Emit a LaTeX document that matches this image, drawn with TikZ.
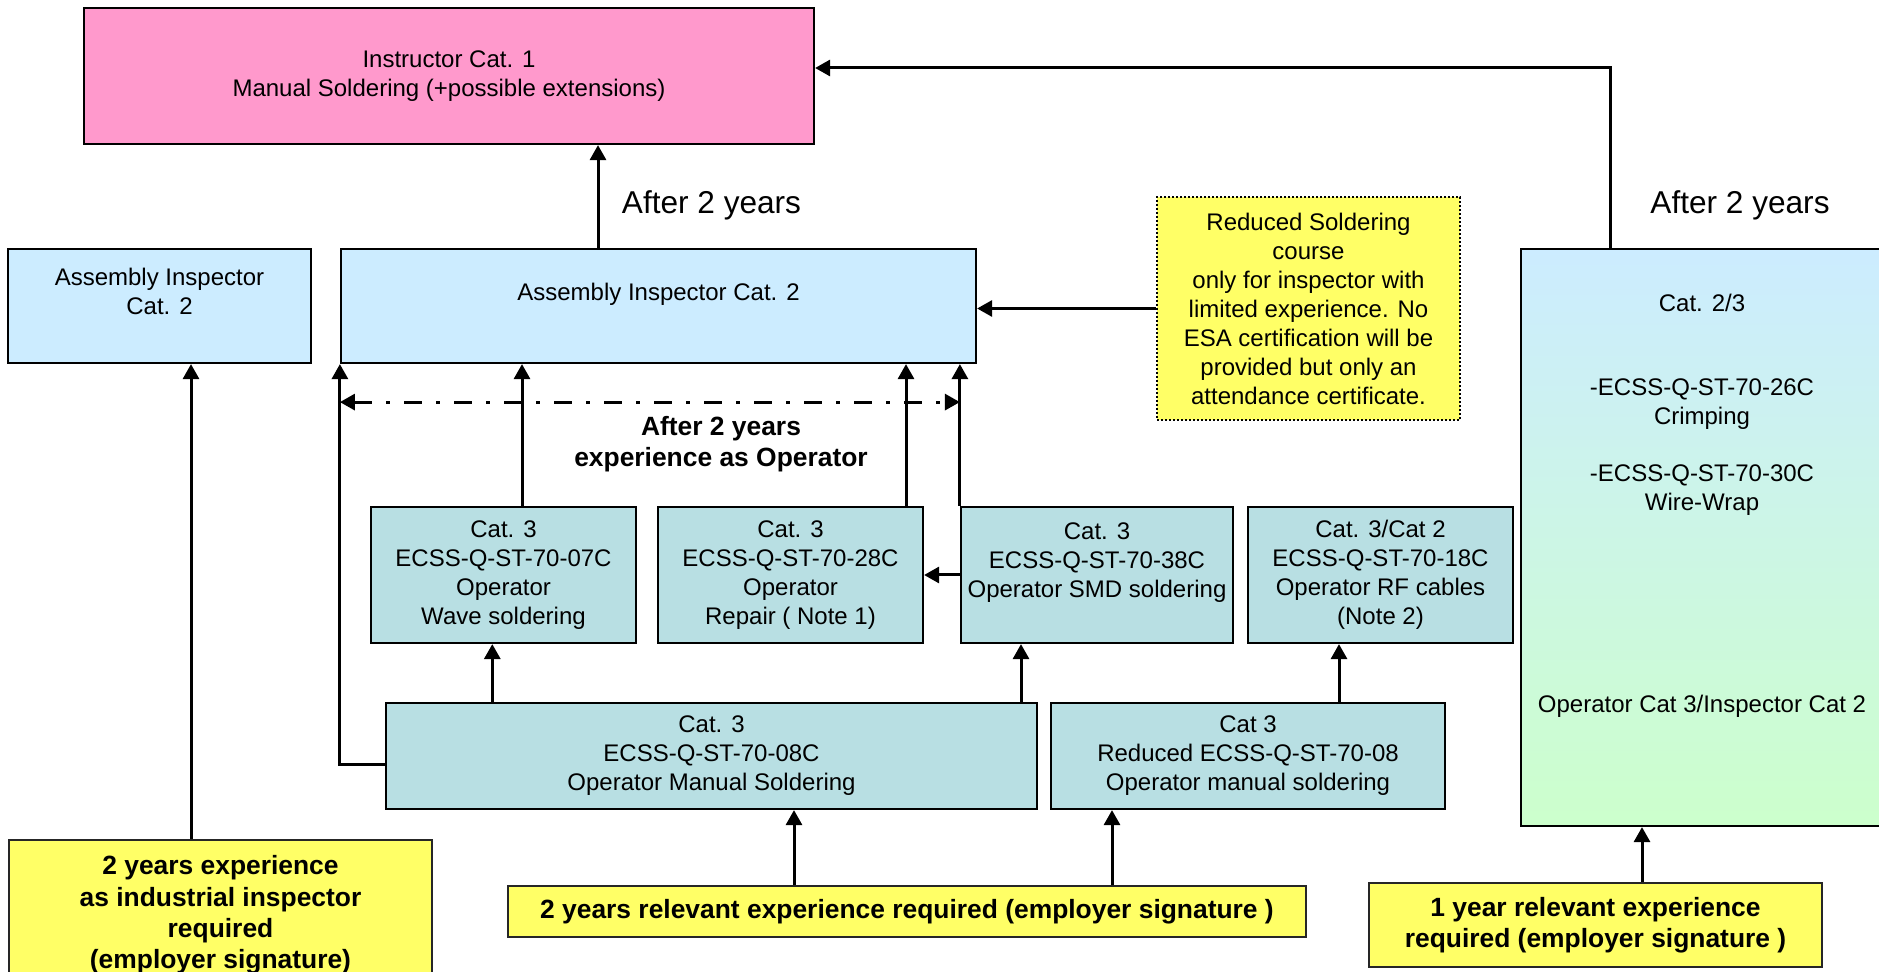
\documentclass[tikz,border=0pt]{standalone}
\usepackage{fontspec}
\setmainfont{Liberation Sans}
\usetikzlibrary{arrows.meta}
\definecolor{instrpink}{HTML}{FF99CC}
\definecolor{aiblue}{HTML}{CCECFF}
\definecolor{opteal}{HTML}{B8DFE3}
\definecolor{reqyellow}{HTML}{FFFF66}
\definecolor{extgreen}{HTML}{CCFFCC}
\begin{document}
\begin{tikzpicture}[x=0.5pt,y=-0.5pt,
  box/.style={draw, line width=1.1pt, inner sep=0pt, align=center, font=\fontsize{12}{14.5}\selectfont},
  reqbox/.style={draw=black!85, line width=1.1pt, inner sep=0pt, fill=reqyellow, align=center, font=\bfseries\fontsize{13.2}{15.6}\selectfont},
  lbl/.style={inner sep=0pt, align=center, font=\fontsize{12}{14.5}\selectfont},
  arr/.style={line width=1.5pt, -{Triangle[length=7.5pt,width=8pt]}}]
\path[use as bounding box, fill=white] (0,0) rectangle (1879,972);
\node[box, fill=instrpink, minimum width=365pt, minimum height=68pt] (instr) at (449,76) {Instructor Cat. 1\\Manual Soldering (+possible extensions)};
\node[box, fill=aiblue, minimum width=151.5pt, minimum height=57pt] (aismall) at (159.5,306) {Assembly Inspector\\Cat. 2\\~};
\node[box, fill=aiblue, minimum width=317.5pt, minimum height=57pt] (aibig) at (658.5,306) {Assembly Inspector Cat. 2\\~};
\node[box, fill=reqyellow, dash pattern=on 1pt off 1pt, minimum width=151.5pt, minimum height=111.5pt] (note) at (1308.5,308.5) {Reduced Soldering\\course\\only for inspector with\\limited experience. No\\ESA certification will be\\provided but only an\\attendance certificate.};
\node[box, top color=aiblue, bottom color=extgreen, minimum width=181.5pt, minimum height=288.5pt] (ext) at (1702.5,537.5) {};
\node[lbl] (extcat) at (1702,303) {Cat. 2/3};
\node[lbl] (extcrimp) at (1702,404.5) {-ECSS-Q-ST-70-26C\\Crimping};
\node[lbl] (extwrap) at (1702,490) {-ECSS-Q-ST-70-30C\\Wire-Wrap};
\node[lbl] (extop) at (1702,706) {Operator Cat 3/Inspector Cat 2};
\node[lbl, font=\fontsize{15.8}{19}\selectfont] (after1) at (711.5,205) {After 2 years};
\node[lbl, font=\fontsize{15.8}{19}\selectfont] (after2) at (1740,205) {After 2 years};
\node[lbl, font=\bfseries\fontsize{13.2}{15.8}\selectfont] (opexp) at (721,444) {After 2 years\\experience as Operator};
\node[box, fill=opteal, minimum width=132.5pt, minimum height=68pt] (wave) at (503.5,575) {Cat. 3\\ECSS-Q-ST-70-07C\\Operator\\Wave soldering};
\node[box, fill=opteal, minimum width=132.5pt, minimum height=68pt] (repair) at (790.5,575) {Cat. 3\\ECSS-Q-ST-70-28C\\Operator\\Repair ( Note 1)};
\node[box, fill=opteal, minimum width=136pt, minimum height=68pt] (smd) at (1097,575) {Cat. 3\\ECSS-Q-ST-70-38C\\Operator SMD soldering\\~};
\node[box, fill=opteal, minimum width=132.5pt, minimum height=68pt] (rf) at (1380.5,575) {Cat. 3/Cat 2\\ECSS-Q-ST-70-18C\\Operator RF cables\\(Note 2)};
\node[box, fill=opteal, minimum width=325.5pt, minimum height=53pt] (manual) at (711.5,756) {Cat. 3\\ECSS-Q-ST-70-08C\\Operator Manual Soldering};
\node[box, fill=opteal, minimum width=197pt, minimum height=53pt] (reduced) at (1248,756) {Cat 3\\Reduced ECSS-Q-ST-70-08\\Operator manual soldering};
\node[reqbox, minimum width=211.5pt, minimum height=75pt] (req1) at (220.5,915) {2 years experience\\as industrial inspector\\required\\(employer signature)};
\node[reqbox, minimum width=399pt, minimum height=25.5pt] (req2) at (907,911.5) {2 years relevant experience required (employer signature )};
\node[reqbox, minimum width=226.5pt, minimum height=42pt] (req3) at (1595.5,925) {1 year relevant experience\\required (employer signature )};
\draw[arr] ([xshift=-30.25pt]aibig.north) -- ([xshift=-30.25pt]aibig.north |- instr.south);
\draw[arr] (note.west) -- (note.west -| aibig.east);
\draw[arr] ([xshift=-46.25pt]ext.north) |- ([yshift=4pt]instr.east);
\draw[arr] ([xshift=-14.75pt]req1.north) -- ([xshift=-14.75pt]req1.north |- aismall.south);
\draw[arr] ([yshift=-4pt]manual.west) -| (aibig.south west);
\draw[arr] ([xshift=9.25pt]wave.north) -- ([xshift=9.25pt]wave.north |- aibig.south);
\draw[arr] ([xshift=57.75pt]repair.north) -- ([xshift=57.75pt]repair.north |- aibig.south);
\draw[arr] (smd.north west) -- (smd.north west |- aibig.south);
\draw[arr] (smd.west) -- (repair.east);
\draw[line width=1.5pt, dash pattern=on 9pt off 7pt on 2pt off 7pt, {Triangle[length=7.5pt,width=8pt]}-{Triangle[length=7.5pt,width=8pt]}] ([yshift=-19pt]aibig.south west) -- ([yshift=-19pt]aibig.south west -| smd.west);
\draw[arr] ([xshift=-109.6pt]manual.north) -- ([xshift=-109.6pt]manual.north |- wave.south);
\draw[arr] ([xshift=154.75pt]manual.north) -- ([xshift=154.75pt]manual.north |- smd.south);
\draw[arr] ([xshift=45.5pt]reduced.north) -- ([xshift=45.5pt]reduced.north |- rf.south);
\draw[arr] ([xshift=-56.5pt]req2.north) -- ([xshift=-56.5pt]req2.north |- manual.south);
\draw[arr] ([xshift=102.5pt]req2.north) -- ([xshift=102.5pt]req2.north |- reduced.south);
\draw[arr] ([xshift=23.25pt]req3.north) -- ([xshift=23.25pt]req3.north |- ext.south);
\end{tikzpicture}
\end{document}
